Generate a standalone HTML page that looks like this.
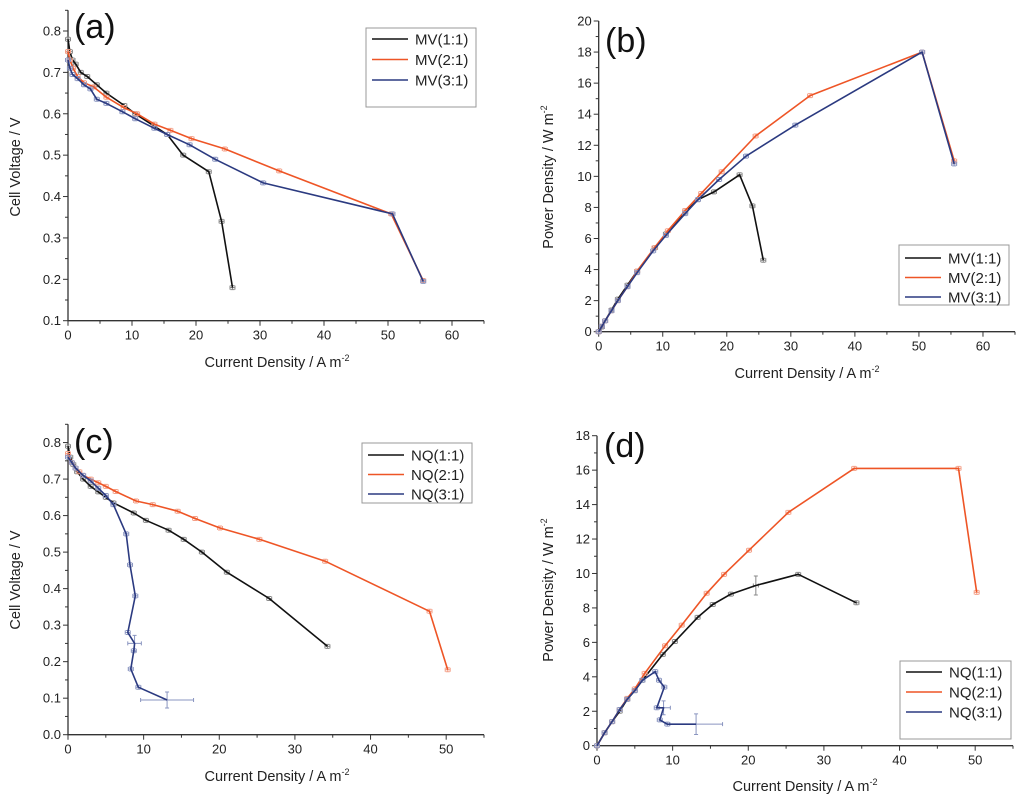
<!DOCTYPE html>
<html><head><meta charset="utf-8"><style>
html,body{margin:0;padding:0;background:#fff;}
svg{display:block;font-family:"Liberation Sans",sans-serif;}
</style></head><body>
<svg id="chart" width="1024" height="801" viewBox="0 0 1024 801"></svg>
<script>
// ---- data ----
const mvLabels = ["MV(1:1)","MV(2:1)","MV(3:1)"];
const nqLabels = ["NQ(1:1)","NQ(2:1)","NQ(3:1)"];
const a_mv1_x=[0,0.3,0.7,1.2,2,3,4.5,6,8.8,10.5,13.5,15.5,18,22,24,25.7];
const a_mv1_y=[0.78,0.75,0.73,0.72,0.70,0.69,0.67,0.65,0.62,0.60,0.57,0.55,0.50,0.46,0.34,0.18];
const a_mv2_x=[0,0.3,0.8,1.5,2.5,4,6,8.7,10.8,13.5,16,19.3,24.5,33,50.5,55.5];
const a_mv2_y=[0.75,0.73,0.71,0.69,0.675,0.665,0.64,0.615,0.60,0.575,0.56,0.54,0.515,0.462,0.358,0.197];
const a_mv3_x=[0,0.3,0.7,1.5,2.5,3.5,4.5,6,8.5,10.5,13.5,15.5,19,23,30.5,50.7,55.5];
const a_mv3_y=[0.73,0.71,0.695,0.685,0.67,0.66,0.635,0.625,0.605,0.588,0.565,0.55,0.525,0.49,0.433,0.358,0.195];
const b_mv1_x=[0,0.5,1,2,3,4.5,6,8.8,10.5,13.5,15.5,18,22,24,25.7];
const b_mv1_y=[0,0.3,0.7,1.4,2.1,3,3.9,5.4,6.3,7.7,8.5,9,10.1,8.1,4.6];
const b_mv2_x=[0,0.5,1,2,3,4.5,6,8.7,10.8,13.5,16,19.2,24.5,33,50.5,55.5];
const b_mv2_y=[0,0.35,0.7,1.35,2,2.9,3.9,5.4,6.5,7.8,8.9,10.3,12.6,15.2,18,11];
const b_mv3_x=[0,0.5,1,2,3,4.5,6,8.5,10.5,13.5,15.5,18.8,23,30.7,50.5,55.5];
const b_mv3_y=[0,0.35,0.7,1.35,2,2.9,3.8,5.2,6.2,7.6,8.5,9.8,11.3,13.3,18,10.8];
const c_nq1_x=[0,0.3,0.7,1.2,2,3,4,5,6,8.7,10.3,13.3,15.3,17.7,21,26.6,34.3];
const c_nq1_y=[0.79,0.76,0.74,0.72,0.70,0.68,0.665,0.65,0.635,0.607,0.587,0.56,0.535,0.50,0.445,0.373,0.242];
const c_nq2_x=[0,0.5,1,1.5,2,3,4,5,6.3,9,11.2,14.5,16.8,20.1,25.3,34,47.8,50.2];
const c_nq2_y=[0.77,0.745,0.73,0.72,0.71,0.70,0.69,0.68,0.666,0.64,0.63,0.612,0.592,0.566,0.535,0.475,0.338,0.178];
const c_nq3_x=[0,0.5,1,2,3,4,5,6,7.7,8.2,8.9,7.9,8.8,8.7,8.3,9.3,13.1];
const c_nq3_y=[0.76,0.745,0.73,0.71,0.695,0.675,0.655,0.63,0.55,0.465,0.38,0.28,0.25,0.23,0.18,0.13,0.095];
const d_nq1_x=[0,1,2,3,4,5,6,8.7,10.3,13.3,15.3,17.7,21,26.6,34.3];
const d_nq1_y=[0,0.75,1.4,2.0,2.7,3.2,3.8,5.3,6.05,7.45,8.2,8.8,9.3,9.95,8.3];
const d_nq2_x=[0,1,2,3,4,5,6.3,9,11.2,14.5,16.8,20.1,25.3,34,47.8,50.2];
const d_nq2_y=[0,0.75,1.4,2.1,2.75,3.3,4.2,5.8,7.0,8.85,9.95,11.35,13.55,16.1,16.1,8.9];
const d_nq3_x=[0,1,2,3,4,5,6,7.7,8.2,8.9,7.9,8.8,8.3,9.3,13.1];
const d_nq3_y=[0,0.75,1.4,2.1,2.7,3.2,3.8,4.3,3.8,3.4,2.2,2.2,1.5,1.25,1.25];

const COLORS=["#111111","#ee5526","#2b3a80"];
const ERRC=["#888","#f4a088","#8a95c0"];
const svg=document.getElementById('chart');
const NS="http://www.w3.org/2000/svg";
function mk(tag,attrs,parent){const e=document.createElementNS(NS,tag);for(const k in attrs)e.setAttribute(k,attrs[k]);(parent||svg).appendChild(e);return e;}

function panel(p){
  const g=mk('g',{});
  
  
  const sx=v=>p.x0+(v-p.xmin)/(p.xmax-p.xmin)*(p.x1-p.x0);
  const sy=v=>p.y0-(v-p.ymin)/(p.ymax-p.ymin)*(p.y0-p.y1);
  // axes
  const ax=mk('path',{d:`M${p.x0},${p.y1}V${p.y0}H${p.x1}`,stroke:'#333','stroke-width':1.3,fill:'none'},g);
  
  
  // x ticks
  for(let v=p.xmin;v<=p.xmax+1e-9;v+=p.xstep/2){
    const major=Math.abs(Math.round(v/p.xstep)*p.xstep-v)<1e-9;
    mk('line',{x1:sx(v),x2:sx(v),y1:p.y0,y2:p.y0+(major?5:3),stroke:'#333','stroke-width':1},g);
    if(major){const t=mk('text',{x:sx(v),y:p.y0+19,'font-size':13,'text-anchor':'middle',fill:'#222'},g);t.textContent=String(Math.round(v));
      
      }
  }
  for(let i=0;;i++){
    const v=p.ymin+i*p.ystep/2; if(v>p.ymax+1e-9)break;
    const major=i%2===0;
    mk('line',{x1:p.x0,x2:p.x0-(major?5:3),y1:sy(v),y2:sy(v),stroke:'#333','stroke-width':1},g);
    if(major){const t=mk('text',{x:p.x0-7,y:sy(v)+4.5,'font-size':13,'text-anchor':'end',fill:'#222'},g);t.textContent=v.toFixed(p.ydec);
      
      }
  }
  // titles
  const xt=mk('text',{x:p.xtx,y:p.xty,'font-size':14.5,'text-anchor':'middle',fill:'#222'},g);
  xt.innerHTML='Current Density / A m<tspan dy="-6" font-size="9">-2</tspan>';
  
  
  const yt=mk('text',{transform:`translate(${p.ytx},${p.yty}) rotate(-90)`,'font-size':14.5,'text-anchor':'middle',fill:'#222'},g);
  yt.innerHTML=p.ytitle;
  
  
  const lab=mk('text',{x:p.lx,y:p.ly,'font-size':34,fill:'#111'},g);
  lab.textContent='('+p.id+')';
  
  
  // series
  p.series.forEach((s,si)=>{
    const pts=s.x.map((xv,i)=>sx(xv).toFixed(1)+','+sy(s.y[i]).toFixed(1)).join(' ');
    s.x.forEach((xv,i)=>{
      const X=sx(xv),Y=sy(s.y[i]);
      const ex=(s.ex&&s.ex[i])?Math.abs(sx(s.ex[i])-sx(0)):2.5;
      const ey=(s.ey&&s.ey[i])?Math.abs(sy(0)-sy(s.ey[i])):2;
      mk('path',{d:`M${X-ex},${Y}H${X+ex}M${X-ex},${Y-2}V${Y+2}M${X+ex},${Y-2}V${Y+2}M${X},${Y-ey}V${Y+ey}M${X-2},${Y-ey}H${X+2}M${X-2},${Y+ey}H${X+2}`,stroke:ERRC[si],'stroke-width':1,fill:'none'},g);
    });
    const pl=mk('polyline',{points:pts,fill:'none',stroke:COLORS[si],'stroke-width':1.6,'stroke-linejoin':'round'},g);
    
    
  });
  // legend
  const L=p.leg;
  const lg=mk('g',{},g);
  
  
  mk('rect',{x:L.x,y:L.y,width:L.w,height:L.h,fill:'#fff',stroke:'#999','stroke-width':1},lg);
  p.series.forEach((s,si)=>{
    const yy=L.y+L.first+si*L.gap;
    mk('line',{x1:L.x+6,x2:L.x+42,y1:yy,y2:yy,stroke:COLORS[si],'stroke-width':1.6},lg);
    const t=mk('text',{x:L.x+49,y:yy+5.5,'font-size':15,fill:'#222'},lg);t.textContent=s.name;
    
    
  });
}
const VT='Cell Voltage / V';
const PT='Power Density / W m<tspan dy="-6" font-size="9">-2</tspan>';
panel({id:'a',x0:68,x1:484,xmin:0,xmax:65,xstep:10,y0:320.7,y1:10.3,ymin:0.1,ymax:0.85,ystep:0.1,ydec:1,
  xtx:277,xty:367,ytx:20,yty:167,ytitle:VT,lx:74,ly:38,
  leg:{x:366,y:28,w:110,h:79,first:11,gap:20.5},
  series:[{name:mvLabels[0],x:a_mv1_x,y:a_mv1_y},{name:mvLabels[1],x:a_mv2_x,y:a_mv2_y},{name:mvLabels[2],x:a_mv3_x,y:a_mv3_y}]});
panel({id:'b',x0:598.7,x1:1015,xmin:0,xmax:65,xstep:10,y0:331.7,y1:21,ymin:0,ymax:20,ystep:2,ydec:0,
  xtx:807,xty:378,ytx:553,yty:177,ytitle:PT,lx:605,ly:52,
  leg:{x:899,y:245,w:110,h:60,first:13,gap:19.5},
  series:[{name:mvLabels[0],x:b_mv1_x,y:b_mv1_y},{name:mvLabels[1],x:b_mv2_x,y:b_mv2_y},{name:mvLabels[2],x:b_mv3_x,y:b_mv3_y}]});
panel({id:'c',x0:68,x1:484,xmin:0,xmax:55,xstep:10,y0:734.7,y1:424.3,ymin:0,ymax:0.85,ystep:0.1,ydec:1,
  xtx:277,xty:781,ytx:20,yty:580,ytitle:VT,lx:74,ly:453,
  leg:{x:362,y:443,w:110,h:60,first:12,gap:19.5},
  series:[{name:nqLabels[0],x:c_nq1_x,y:c_nq1_y},{name:nqLabels[1],x:c_nq2_x,y:c_nq2_y},{name:nqLabels[2],x:c_nq3_x,y:c_nq3_y,ex:[0,0,0,0,0,0,0,0,0,0,0,0,0.9,0,0,0,3.5],ey:[0,0,0,0,0,0,0,0,0,0,0,0,0.022,0,0,0,0.022]}]});
panel({id:'d',x0:597,x1:1013,xmin:0,xmax:55,xstep:10,y0:745.7,y1:435.7,ymin:0,ymax:18,ystep:2,ydec:0,
  xtx:805,xty:791,ytx:553,yty:590,ytitle:PT,lx:604,ly:457,
  leg:{x:900,y:661,w:111,h:78,first:11,gap:20},
  series:[{name:nqLabels[0],x:d_nq1_x,y:d_nq1_y,ey:[0,0,0,0,0,0,0,0,0,0,0,0,0.55,0,0]},{name:nqLabels[1],x:d_nq2_x,y:d_nq2_y},{name:nqLabels[2],x:d_nq3_x,y:d_nq3_y,ex:[0,0,0,0,0,0,0,0,0,0,0,0.9,0,0,3.5],ey:[0,0,0,0,0,0,0,0,0,0,0,0.4,0,0,0.6]}]});
</script>
</body></html>
